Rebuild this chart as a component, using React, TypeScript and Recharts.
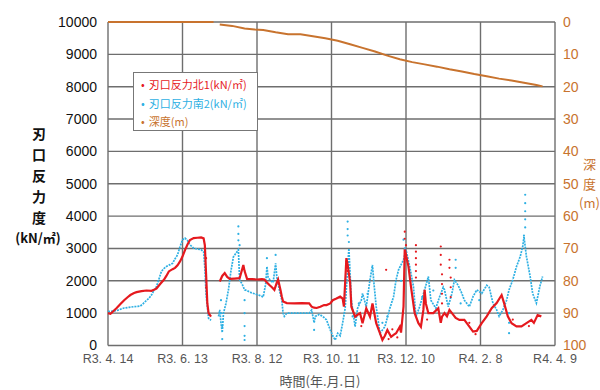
import { ComposedChart, Line, Scatter, XAxis, YAxis, CartesianGrid, Legend } from 'recharts';

// 経過日数 (R3.4.14 = 0) と刃口反力度・深度
const xTicks = [0, 60, 120, 180, 240, 300, 360];
const xLabels = ['R3. 4. 14', 'R3. 6. 13', 'R3. 8. 12', 'R3. 10. 11', 'R3. 12. 10', 'R4. 2. 8', 'R4. 4. 9'];
const leftTicks = [0, 1000, 2000, 3000, 4000, 5000, 6000, 7000, 8000, 9000, 10000];
const rightTicks = [0, 10, 20, 30, 40, 50, 60, 70, 80, 90, 100];

const north1 = [
  [0, 1000], [2, 980], [4, 1050], [7, 1160], [10, 1280], [13, 1400], [16, 1500], [18, 1560], [21, 1620], [23, 1650],
  [27, 1680], [31, 1700], [35, 1690], [37, 1720], [39, 1760], [42, 1900], [45, 2030], [47, 2150], [49, 2290], [52, 2360],
  [54, 2400], [56, 2480], [58, 2600], [60, 2750], [62, 2950], [64, 3120], [66, 3260], [69, 3320], [72, 3330], [75, 3340],
  [77, 3310], [78, 3100], [79, 2200], [80, 1300], [81, 1000], [83, 890], [86, null],
  [90, 1980], [92, 2150], [94, 2240], [96, 2120], [98, 2060], [102, 2070], [106, 2080], [108, 2350], [109, 2490], [110, 2300],
  [112, 2060], [116, 2050], [120, 2040], [124, 2050], [126, 2040], [128, 1950], [130, 1870], [132, 1800], [134, 1720], [136, 1950],
  [137, 2040], [139, 1700], [140, 1510], [141, 1360], [144, 1310], [150, 1300], [156, 1310], [162, 1300], [164, 1200], [166, 1170],
  [168, 1160], [171, 1200], [174, 1250], [176, 1250], [179, 1300], [181, 1400], [184, 1450], [187, 1510], [189, 1450], [190, 1200],
  [192, 2700], [193, 2500], [195, 1950], [196, 1200], [199, 890], [201, 950], [203, 1000], [205, 690], [208, 1150], [211, 890],
  [213, 1300], [216, 690], [219, 380], [221, 170], [223, 300], [225, 480], [228, 270], [230, 330], [232, 380], [235, 580],
  [236, 400], [238, 1200], [239, 3000], [240, 2800], [242, 2440], [244, 1820], [247, 1000], [250, 690], [252, 580], [254, 1100],
  [255, 1720], [256, 1300], [258, 1000], [262, 1000], [266, 1150], [268, 700], [269, 890], [271, 1000], [273, 900], [275, 1100],
  [277, 1000], [280, 850], [283, 790], [287, 790], [290, 640], [294, 430], [297, 450], [301, 690], [305, 900], [309, 1150],
  [313, 1310], [317, 1560], [319, 1310], [322, 900], [325, 690], [329, 590], [333, 590], [337, 690], [341, 790], [343, 700],
  [346, 940], [349, 900],
];
const north1Dots = [
  [239, 3520], [239, 3300], [240, 3100], [248, 3100], [248, 2900], [248, 2700], [248, 2500], [248, 2300], [248, 2100],
  [192, 2600], [193, 2300], [268, 3060], [268, 2800], [268, 2500], [269, 2200], [269, 1900], [269, 1600], [269, 1300],
  [275, 2650], [275, 2400], [276, 2100], [276, 1800], [276, 1500], [224, 2340], [79, 2700], [79, 1800],
  [204, 600], [210, 1000], [226, 200], [229, 500], [233, 250], [257, 800], [291, 700], [296, 350], [326, 800], [339, 600],
];

const south2 = [
  [0, 1050], [3, 1060], [7, 1080], [10, 1120], [13, 1160], [17, 1180], [21, 1200], [24, 1210], [26, 1220], [28, 1280],
  [30, 1360], [33, 1460], [35, 1560], [37, 1700], [39, 1820], [41, 2050], [43, 2290], [45, 2380], [47, 2440], [50, 2500],
  [52, 2540], [54, 2680], [56, 2800], [58, 3050], [60, 3270], [62, 3320], [64, 3250], [65, 3160], [67, 3080], [69, 3010],
  [72, 2980], [75, 2960], [77, 2900], [78, 2400], [79, 1560], [81, 840], [83, 780], [86, null],
  [89, 900], [90, 1100], [91, 700], [92, 400], [93, 1000], [95, 1300], [97, 1720], [99, 2300], [101, 2740], [103, 2850],
  [105, 2960], [106, 2030], [108, 1900], [110, 1720], [112, 1700], [114, 1650], [118, 1600], [122, 1550], [125, 1500], [127, 1900],
  [128, 2440], [129, 2100], [131, 2000], [133, 1950], [135, 2540], [136, 2100], [138, 1720], [140, 1400], [141, 1000], [142, 900],
  [144, 1000], [150, 1000], [156, 1000], [162, 1000], [164, 1100], [166, 700], [167, 900], [170, 960], [173, 900], [176, 790],
  [179, 480], [181, 300], [183, 170], [185, 380], [187, 300], [189, 700], [191, 1150], [193, 2400], [194, 3000], [195, 2200],
  [196, 1400], [199, 580], [201, 1150], [204, 1400], [205, 1610], [208, 1200], [211, 2030], [213, 2490], [214, 2000], [216, 1200],
  [219, 380], [223, 580], [227, 1150], [230, 1510], [232, 2030], [234, 2340], [238, 2650], [240, 2960], [243, 2440], [246, 1820],
  [248, 890], [251, 1200], [255, 1720], [258, 2130], [260, 1400], [264, 1150], [267, 1500], [270, 1800], [271, 1720], [274, 1200],
  [277, 1610], [279, 2030], [282, 1860], [285, 1610], [287, 1400], [291, 1200], [294, 1510], [297, 1720], [301, 1610], [305, 1860],
  [307, 1800], [310, 1310], [313, 1100], [315, 900], [318, 1100], [321, 1400], [323, 1720], [326, 2030], [329, 2440], [332, 2750],
  [334, 3060], [335, 3370], [337, 2750], [340, 2130], [342, 1610], [345, 1310], [348, 1860], [350, 2130],
];
const south2Dots = [
  [105, 3680], [105, 3450], [105, 3250], [106, 3100], [110, 1400], [110, 1000], [110, 600], [110, 300], [110, 170],
  [91, 1400], [91, 1000], [92, 600], [92, 200], [193, 3830], [193, 3600], [193, 3400], [194, 3200], [166, 480],
  [336, 4660], [336, 4400], [336, 4150], [336, 3900], [336, 3650], [335, 3400], [323, 380], [323, 700], [323, 1000],
  [280, 2650], [280, 2400], [238, 3270], [239, 3000], [128, 2700], [135, 2800],
  [197, 900], [202, 1300], [209, 1600], [221, 700], [225, 900], [236, 2000], [253, 1500], [262, 1700], [284, 1300], [299, 1400],
];

const depth = [
  [0, 0], [40, 0], [60, 0], [85, 0], [87, null], [90, 0.8], [100, 1.2], [110, 2.0], [118, 2.3], [125, 2.5],
  [135, 3.2], [145, 3.8], [155, 3.8], [165, 4.4], [175, 5.0], [185, 5.8], [195, 6.9], [205, 8.0], [215, 9.1], [225, 10.4],
  [235, 11.5], [245, 12.4], [255, 13.1], [265, 13.8], [275, 14.6], [285, 15.3], [295, 16.1], [305, 16.8], [315, 17.5], [325, 18.1],
  [335, 18.8], [345, 19.5], [350, 19.9],
];

const RED = '#e5191e';
const CYAN = '#2eb0e3';
const ORANGE = '#c8732e';
const toPts = (arr: (number | null)[][]) => arr.map(([x, y]) => ({ x, y }));

const dot = (color: string) => (p: any) => <circle cx={p.cx} cy={p.cy} r={1.1} fill={color} />;

function LegendBox() {
  const items = [
    { t: '刃口反力北1(kN/㎡)', c: RED },
    { t: '刃口反力南2(kN/㎡)', c: CYAN },
    { t: '深度(m)', c: ORANGE },
  ];
  return (
    <div style={{ width: 125, height: 59, border: '1px solid #777', background: '#fff', boxSizing: 'border-box', padding: '2px 0 0 7px' }}>
      {items.map((it) => (
        <div key={it.t} style={{ color: it.c, fontSize: 11, lineHeight: '18.5px', fontFamily: '"Noto Sans CJK JP", sans-serif', whiteSpace: 'nowrap' }}>
          <span style={{ marginRight: 4 }}>•</span>{it.t}
        </div>
      ))}
    </div>
  );
}

const LeftLabel = () => (
  <g fontFamily='"Noto Sans CJK JP", sans-serif' fill="#111" textAnchor="middle">
    {['刃', '口', '反', '力', '度'].map((ch, i) => (
      <text key={ch} x={39} y={139 + i * 21} fontSize={14} fontWeight={700}>{ch}</text>
    ))}
    <text x={38} y={243} fontSize={13} fontWeight={700}>(kN/㎡)</text>
  </g>
);

const RightLabel = () => (
  <g fontFamily='"Noto Sans CJK JP", sans-serif' fill={ORANGE} fontSize={13}>
    <text x={583} y={169}>深</text>
    <text x={583} y={189}>度</text>
    <text x={579} y={208}>(m)</text>
  </g>
);

const XLabel = () => (
  <text x={320} y={386} textAnchor="middle" fill="#555" fontSize={13} fontFamily='"Noto Sans CJK JP", sans-serif'>
    時間(年.月.日)
  </text>
);

export default function App() {
  return (
    <div style={{ position: 'absolute', left: 0, top: 0, width: 600, height: 390, background: '#fff' }}>
      <ComposedChart width={600} height={390} margin={{ top: 22, right: 0, left: 0, bottom: 0 }}>
        <CartesianGrid yAxisId="left" stroke="#6e6e6e" strokeWidth={1.4} />
        <XAxis
          dataKey="x"
          type="number"
          domain={[0, 360]}
          ticks={xTicks}
          tickFormatter={(v: number) => xLabels[xTicks.indexOf(v)]}
          height={44.5}
          axisLine={false}
          tickLine={false}
          tickSize={0}
          tickMargin={9}
          interval={0}
          tick={{ fill: '#555', fontSize: 12.5, fontFamily: '"Liberation Sans", sans-serif' }}
          label={{ content: XLabel }}
        />
        <YAxis
          yAxisId="left"
          width={108}
          domain={[0, 10000]}
          ticks={leftTicks}
          interval={0}
          axisLine={false}
          tickLine={false}
          tickSize={0}
          tickMargin={11}
          tick={{ fill: '#111', fontSize: 14, fontFamily: '"Liberation Sans", sans-serif' }}
          label={{ content: LeftLabel }}
        />
        <YAxis
          yAxisId="right"
          orientation="right"
          width={45}
          reversed
          domain={[0, 100]}
          ticks={rightTicks}
          interval={0}
          axisLine={false}
          tickLine={false}
          tickSize={0}
          tickMargin={8}
          tick={{ fill: ORANGE, fontSize: 14, fontFamily: '"Liberation Sans", sans-serif' }}
          label={{ content: RightLabel }}
        />
        <Legend
          layout="vertical"
          align="center"
          verticalAlign="middle"
          wrapperStyle={{ position: 'absolute', left: 133, top: 72, width: 'auto' }}
          content={() => <LegendBox />}
        />
        <Line yAxisId="right" data={toPts(depth)} dataKey="y" stroke={ORANGE} strokeWidth={2} dot={false} isAnimationActive={false} name="深度(m)" />
        <Line yAxisId="left" data={toPts(south2)} dataKey="y" stroke={CYAN} strokeWidth={1.7} strokeDasharray="2 1" dot={false} isAnimationActive={false} name="刃口反力南2" />
        <Scatter yAxisId="left" data={toPts(south2Dots)} dataKey="y" shape={dot(CYAN)} isAnimationActive={false} />
        <Line yAxisId="left" data={toPts(north1)} dataKey="y" stroke={RED} strokeWidth={2.2} dot={false} isAnimationActive={false} name="刃口反力北1" />
        <Scatter yAxisId="left" data={toPts(north1Dots)} dataKey="y" shape={dot(RED)} isAnimationActive={false} />
      </ComposedChart>
    </div>
  );
}
